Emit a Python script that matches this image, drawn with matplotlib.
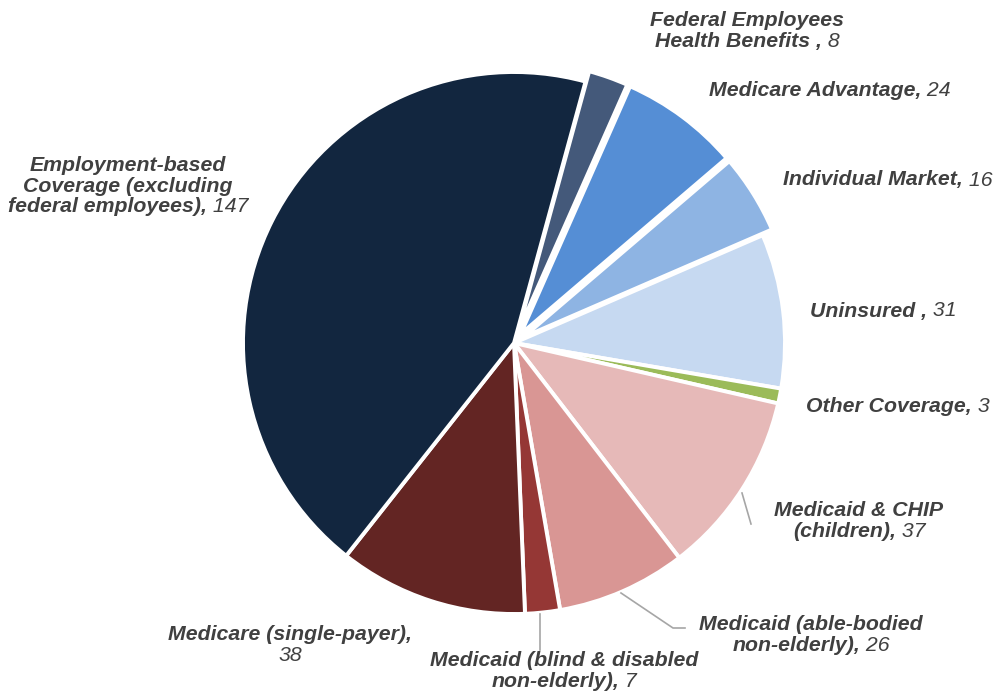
import matplotlib
matplotlib.use("Agg")
import matplotlib.pyplot as plt
from matplotlib.offsetbox import TextArea, HPacker, VPacker, AnnotationBbox

plt.rcParams['font.family'] = ['Liberation Sans', 'DejaVu Sans']

# slices in clockwise order, starting just right of 12 o'clock
names = ["Federal Employees\nHealth Benefits ,", "Medicare Advantage,", "Individual Market,",
         "Uninsured ,", "Other Coverage,", "Medicaid & CHIP\n(children),",
         "Medicaid (able-bodied\nnon-elderly),", "Medicaid (blind & disabled\nnon-elderly),",
         "Medicare (single-payer),\n", "Employment-based\nCoverage (excluding\nfederal employees),"]
values = [8, 24, 16, 31, 3, 37, 26, 7, 38, 147]
colors = ["#44597A", "#558ED5", "#8EB4E3", "#C6D9F1", "#9BBB59",
          "#E6B9B8", "#D99694", "#953735", "#632523", "#12263F"]
pulled_out = [True, True, True, False, False, False, False, False, False, False]

# label block centres (pixels, y up)
label_xy = [(747, 662), (830, 602), (888, 513), (883, 382), (898, 286),
            (859, 172), (811, 58), (564, 22), (290, 48), (128, 507)]

# leader lines for the lower labels
leaders = {5: [(742, 200), (751, 169)],
           6: [(621, 100), (673, 65), (685, 65)],
           7: [(540, 79), (540, 43)]}

W, H = 996, 693
R = 271
fig = plt.figure(figsize=(W / 100, H / 100), dpi=100)
ax = fig.add_axes([0, 0, 1, 1])

ax.pie(values, colors=colors, explode=[11 if p else 0 for p in pulled_out],
       startangle=74.7, counterclock=False, center=(514, 350), radius=R,
       wedgeprops=dict(edgecolor='white', linewidth=2.8))
ax.set_xlim(0, W)
ax.set_ylim(0, H)
ax.set_aspect('equal')
ax.axis('off')

base = dict(fontsize=15.3, color='#404040')


def add_label(name, value, xy):
    lines = name.split("\n")
    rows = []
    for i, line in enumerate(lines):
        parts = []
        if line:
            parts.append(TextArea(line, textprops=dict(fontweight='bold', fontstyle='italic', **base)))
        if i == len(lines) - 1:
            plain = f" {value}" if line else f"{value}"
            parts.append(TextArea(plain, textprops=dict(fontstyle='italic', **base)))
        rows.append(HPacker(children=parts, pad=0, sep=0, align='baseline'))
    box = VPacker(children=rows, pad=0, sep=1, align='center')
    ab = AnnotationBbox(box, xy, xycoords='data', frameon=False, box_alignment=(0.5, 0.5))
    ax.add_artist(ab)


for name, v, xy in zip(names, values, label_xy):
    add_label(name, v, xy)

for pts in leaders.values():
    xs, ys = zip(*pts)
    ax.plot(xs, ys, color='#A6A6A6', linewidth=1.2)

fig.savefig("out.png", dpi=100)
